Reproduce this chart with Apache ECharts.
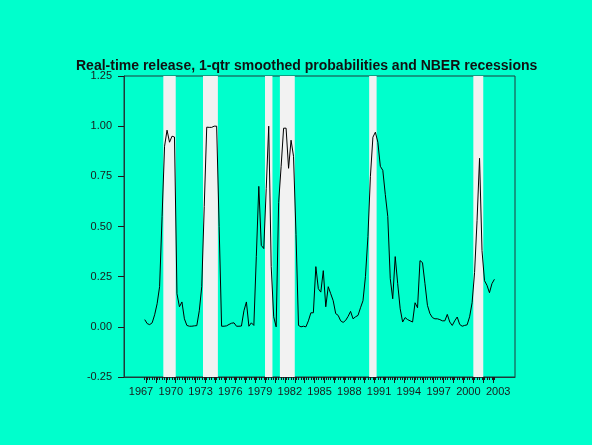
<!DOCTYPE html>
<html>
<head>
<meta charset="utf-8">
<script src="https://cdn.jsdelivr.net/npm/echarts@6/dist/echarts.min.js"></script>
<style>
  html, body { margin: 0; padding: 0; background: #00ffcc; }
  #main { width: 592px; height: 445px; }
</style>
</head>
<body>
<div id="main"></div>
<script>
// quarterly series, first obs 1967Q4
const startYear = 1967;
const startQuarter = 4;

// 1-qtr smoothed recession probabilities
const probs = [
  0.036, 0.016, 0.011, 0.020, 0.060, 0.115, 0.200, 0.550, 0.900, 0.980,
  0.920, 0.950, 0.946, 0.165, 0.100, 0.124, 0.040, 0.007, 0.003, 0.003,
  0.005, 0.006, 0.080, 0.200, 0.600, 0.995, 0.994, 0.994, 1.000, 1.000,
  0.500, 0.003, 0.003, 0.005, 0.012, 0.018, 0.020, 0.003, 0.003, 0.004,
  0.080, 0.124, 0.003, 0.020, 0.007, 0.350, 0.700, 0.406, 0.390, 0.690,
  1.000, 0.300, 0.050, 0.000, 0.620, 0.800, 0.990, 0.990, 0.790, 0.930,
  0.850, 0.460, 0.007, 0.000, 0.003, 0.000, 0.030, 0.070, 0.070, 0.300,
  0.190, 0.173, 0.280, 0.100, 0.200, 0.165, 0.130, 0.066, 0.057, 0.030,
  0.022, 0.032, 0.052, 0.077, 0.040, 0.050, 0.057, 0.095, 0.130, 0.250,
  0.450, 0.750, 0.945, 0.970, 0.920, 0.800, 0.780, 0.660, 0.550, 0.240,
  0.140, 0.350, 0.215, 0.090, 0.024, 0.046, 0.036, 0.030, 0.024, 0.120,
  0.095, 0.330, 0.320, 0.215, 0.107, 0.066, 0.046, 0.040, 0.040, 0.036,
  0.030, 0.030, 0.062, 0.024, 0.007, 0.030, 0.049, 0.012, 0.003, 0.007,
  0.010, 0.050, 0.120, 0.270, 0.530, 0.840, 0.380, 0.230, 0.207, 0.170,
  0.215, 0.237
];

// NBER recessions, [first quarter, last quarter]
const recessions = [
  ['1969Q4', '1970Q4'],
  ['1973Q4', '1975Q1'],
  ['1980Q1', '1980Q3'],
  ['1981Q3', '1982Q4'],
  ['1990Q3', '1991Q1'],
  ['2001Q1', '2001Q4']
];

const yearLabels = [1967, 1970, 1973, 1976, 1979, 1982, 1985, 1988, 1991, 1994, 1997, 2000, 2003];
const yTicks = [-0.25, 0, 0.25, 0.5, 0.75, 1.0, 1.25];

// quarter start as decimal year
function qStart(str) {
  const y = +str.slice(0, 4), q = +str.slice(5);
  return y + (q - 1) / 4;
}

const pts = probs.map(function (v, i) {
  const t = startYear + (startQuarter - 1) / 4 + i / 4 + 0.125;
  return [t, v];
});

const bands = recessions.map(function (r) {
  return [{ xAxis: qStart(r[0]) }, { xAxis: qStart(r[1]) + 0.25 }];
});

const quarterTicks = pts.map(function (p) { return p[0]; });
const yearTicks = [];
for (let y = 1968; y <= 2003; y++) yearTicks.push(y);

const myChart = echarts.init(document.getElementById('main'));

const xMin = 1965.786, xMax = 2005.2;
const txt = { color: '#1a1a1a', fontFamily: 'Liberation Sans', fontSize: 11 };

myChart.setOption({
  animation: false,
  backgroundColor: '#00ffcc',
  title: {
    text: 'Real-time release, 1-qtr smoothed probabilities and NBER recessions',
    left: 71,
    top: 54,
    textStyle: { color: '#111', fontFamily: 'Liberation Sans', fontSize: 14, fontWeight: 'bold' }
  },
  grid: {
    left: 124, right: 77, top: 76, bottom: 68,
    show: true, borderColor: '#1e3a3a', borderWidth: 1
  },
  xAxis: [
    {
      type: 'value', min: xMin, max: xMax, position: 'bottom',
      splitLine: { show: false },
      axisLine: { show: true, onZero: false, lineStyle: { color: '#1e3a3a' } },
      axisTick: { show: true, inside: false, length: 3, customValues: quarterTicks, lineStyle: { color: '#1a1a1a' } },
      axisLabel: Object.assign({
        margin: 9,
        customValues: yearLabels.map(function (y) { return y + 0.5; }),
        formatter: function (v) { return String(Math.floor(v)); }
      }, txt)
    },
    {
      type: 'value', min: xMin, max: xMax, position: 'bottom',
      splitLine: { show: false },
      axisLine: { show: false, onZero: false },
      axisTick: { show: true, inside: false, length: 6, customValues: yearTicks, lineStyle: { color: '#1a1a1a' } },
      axisLabel: { show: false }
    }
  ],
  yAxis: {
    type: 'value', min: -0.25, max: 1.25, interval: 0.25,
    splitLine: { show: false },
    axisLine: { show: true, onZero: false, lineStyle: { color: '#1e3a3a' } },
    axisTick: { show: true, length: 6, lineStyle: { color: '#1a1a1a' } },
    axisLabel: Object.assign({
      margin: 12,
      customValues: yTicks,
      formatter: function (v) { return v.toFixed(2); }
    }, txt)
  },
  series: [{
    type: 'line',
    data: pts,
    showSymbol: false,
    lineStyle: { color: '#000', width: 1 },
    markArea: {
      silent: true,
      itemStyle: { color: '#f2f2f2' },
      data: bands
    }
  }]
});
</script>
</body>
</html>
